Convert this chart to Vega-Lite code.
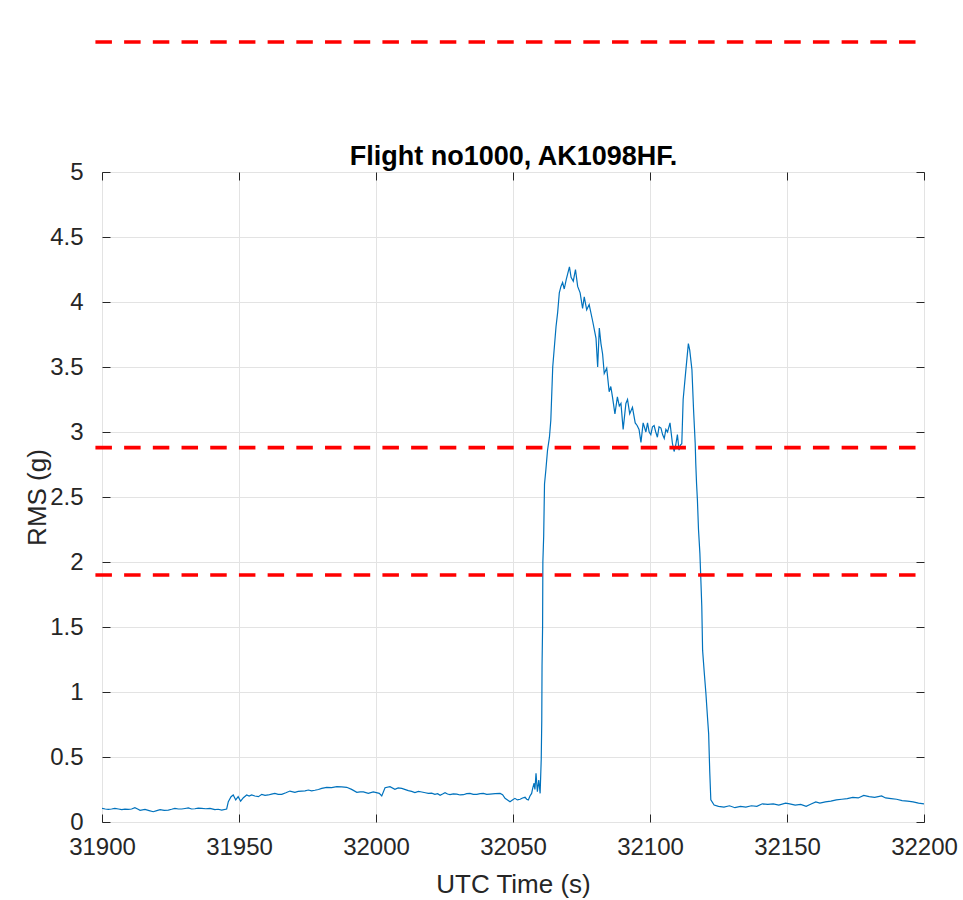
{
  "$schema": "https://vega.github.io/schema/vega-lite/v6.json",
  "autosize": "none",
  "width": 822,
  "height": 650,
  "padding": {"left": 102, "top": 172, "right": 39, "bottom": 78},
  "background": "white",
  "config": {
    "view": {"stroke": "#262626", "strokeWidth": 1},
    "font": "Liberation Sans",
    "axis": {
      "labelFont": "Liberation Sans",
      "titleFont": "Liberation Sans",
      "labelColor": "#262626",
      "titleColor": "#262626",
      "tickColor": "#262626",
      "domain": false,
      "gridColor": "#e3e3e3",
      "gridWidth": 1
    }
  },
  "resolve": {"axis": {"x": "independent", "y": "independent"}},
  "layer": [
    {
      "data": {
        "values": [
          {"t":31900,"rms":0.105},{"t":31901.2,"rms":0.1},{"t":31902.3,"rms":0.097},{"t":31903.5,"rms":0.1},{"t":31904.7,"rms":0.105},{"t":31906,"rms":0.1},{"t":31907.2,"rms":0.095},{"t":31908.4,"rms":0.099},{"t":31909.6,"rms":0.097},{"t":31910.8,"rms":0.1},{"t":31912,"rms":0.11},{"t":31913,"rms":0.1},{"t":31913.9,"rms":0.09},{"t":31915.7,"rms":0.097},{"t":31917.2,"rms":0.088},{"t":31918.7,"rms":0.079},{"t":31920,"rms":0.088},{"t":31921.2,"rms":0.095},{"t":31922.7,"rms":0.09},{"t":31924.2,"rms":0.092},{"t":31925.4,"rms":0.098},{"t":31926.6,"rms":0.105},{"t":31927.9,"rms":0.1},{"t":31929.1,"rms":0.1},{"t":31930.3,"rms":0.104},{"t":31931.5,"rms":0.108},{"t":31932.7,"rms":0.1},{"t":31933.9,"rms":0.102},{"t":31935.1,"rms":0.107},{"t":31936.4,"rms":0.105},{"t":31937.9,"rms":0.102},{"t":31939.4,"rms":0.105},{"t":31941.2,"rms":0.095},{"t":31942.4,"rms":0.098},{"t":31943.7,"rms":0.092},{"t":31945.5,"rms":0.1},{"t":31946.1,"rms":0.156},{"t":31947.1,"rms":0.195},{"t":31947.9,"rms":0.208},{"t":31948.8,"rms":0.17},{"t":31949.7,"rms":0.195},{"t":31950.6,"rms":0.16},{"t":31951.6,"rms":0.187},{"t":31952.8,"rms":0.208},{"t":31953.7,"rms":0.2},{"t":31954.6,"rms":0.208},{"t":31955.8,"rms":0.2},{"t":31957.1,"rms":0.195},{"t":31958.3,"rms":0.213},{"t":31959.5,"rms":0.205},{"t":31960.7,"rms":0.208},{"t":31961.9,"rms":0.215},{"t":31963.1,"rms":0.22},{"t":31964.3,"rms":0.212},{"t":31965.6,"rms":0.213},{"t":31967.1,"rms":0.225},{"t":31968.6,"rms":0.238},{"t":31970.4,"rms":0.228},{"t":31971.6,"rms":0.235},{"t":31972.9,"rms":0.238},{"t":31974.1,"rms":0.24},{"t":31975.3,"rms":0.246},{"t":31976.5,"rms":0.24},{"t":31977.7,"rms":0.244},{"t":31979,"rms":0.25},{"t":31980.2,"rms":0.259},{"t":31982,"rms":0.267},{"t":31983.8,"rms":0.265},{"t":31985.7,"rms":0.272},{"t":31987.5,"rms":0.27},{"t":31989.3,"rms":0.267},{"t":31991.1,"rms":0.251},{"t":31993,"rms":0.228},{"t":31994.2,"rms":0.232},{"t":31995.4,"rms":0.231},{"t":31997.2,"rms":0.22},{"t":31999,"rms":0.231},{"t":32001.2,"rms":0.22},{"t":32002.1,"rms":0.2},{"t":32003.3,"rms":0.264},{"t":32005.1,"rms":0.272},{"t":32006.9,"rms":0.251},{"t":32008.1,"rms":0.262},{"t":32009.4,"rms":0.259},{"t":32011.8,"rms":0.241},{"t":32013,"rms":0.235},{"t":32014.2,"rms":0.226},{"t":32015.5,"rms":0.235},{"t":32016.7,"rms":0.231},{"t":32018,"rms":0.225},{"t":32019.1,"rms":0.22},{"t":32020.3,"rms":0.222},{"t":32021.5,"rms":0.213},{"t":32022.5,"rms":0.218},{"t":32023.4,"rms":0.205},{"t":32024.3,"rms":0.215},{"t":32025.2,"rms":0.226},{"t":32026.1,"rms":0.215},{"t":32027,"rms":0.21},{"t":32028.2,"rms":0.216},{"t":32029.5,"rms":0.215},{"t":32030.7,"rms":0.208},{"t":32031.9,"rms":0.21},{"t":32033.1,"rms":0.218},{"t":32034.3,"rms":0.22},{"t":32035.5,"rms":0.212},{"t":32036.8,"rms":0.213},{"t":32038,"rms":0.218},{"t":32039.2,"rms":0.22},{"t":32040.4,"rms":0.212},{"t":32041.6,"rms":0.215},{"t":32043.5,"rms":0.218},{"t":32045.3,"rms":0.22},{"t":32046.2,"rms":0.21},{"t":32047.1,"rms":0.182},{"t":32048,"rms":0.17},{"t":32048.9,"rms":0.156},{"t":32049.8,"rms":0.17},{"t":32050.7,"rms":0.182},{"t":32051.6,"rms":0.17},{"t":32052.6,"rms":0.175},{"t":32053.5,"rms":0.185},{"t":32054.4,"rms":0.19},{"t":32055,"rms":0.175},{"t":32055.6,"rms":0.17},{"t":32056.2,"rms":0.2},{"t":32056.8,"rms":0.22},{"t":32057.2,"rms":0.26},{"t":32057.7,"rms":0.298},{"t":32058,"rms":0.25},{"t":32058.4,"rms":0.375},{"t":32058.9,"rms":0.233},{"t":32059.4,"rms":0.323},{"t":32059.9,"rms":0.22},{"t":32060.3,"rms":0.48},{"t":32060.5,"rms":0.78},{"t":32060.6,"rms":1.2},{"t":32060.8,"rms":1.5},{"t":32060.9,"rms":2.0},{"t":32061.2,"rms":2.2},{"t":32061.5,"rms":2.6},{"t":32062,"rms":2.71},{"t":32062.6,"rms":2.86},{"t":32063.3,"rms":2.96},{"t":32063.8,"rms":3.09},{"t":32064.5,"rms":3.5},{"t":32065.7,"rms":3.81},{"t":32066.3,"rms":3.92},{"t":32066.9,"rms":4.07},{"t":32067.5,"rms":4.12},{"t":32068.1,"rms":4.15},{"t":32068.7,"rms":4.1},{"t":32069.4,"rms":4.17},{"t":32070,"rms":4.22},{"t":32070.6,"rms":4.27},{"t":32071.2,"rms":4.19},{"t":32072,"rms":4.16},{"t":32072.8,"rms":4.25},{"t":32073.6,"rms":4.12},{"t":32074.5,"rms":4.07},{"t":32075.4,"rms":3.95},{"t":32076,"rms":4.04},{"t":32076.9,"rms":3.94},{"t":32077.8,"rms":3.98},{"t":32079.1,"rms":3.85},{"t":32080.3,"rms":3.72},{"t":32080.9,"rms":3.5},{"t":32081.5,"rms":3.8},{"t":32082.1,"rms":3.68},{"t":32082.7,"rms":3.6},{"t":32083.3,"rms":3.45},{"t":32084.2,"rms":3.49},{"t":32085.1,"rms":3.31},{"t":32085.7,"rms":3.35},{"t":32086.3,"rms":3.27},{"t":32087.2,"rms":3.14},{"t":32088.1,"rms":3.27},{"t":32088.8,"rms":3.2},{"t":32089.4,"rms":3.22},{"t":32090.2,"rms":3.02},{"t":32091.2,"rms":3.22},{"t":32091.8,"rms":3.25},{"t":32092.6,"rms":3.14},{"t":32093.6,"rms":3.19},{"t":32094.6,"rms":3.07},{"t":32095.3,"rms":3.05},{"t":32096,"rms":3.02},{"t":32096.7,"rms":2.92},{"t":32097.5,"rms":3.07},{"t":32098.5,"rms":3.0},{"t":32099.1,"rms":3.07},{"t":32099.7,"rms":3.0},{"t":32100.3,"rms":2.98},{"t":32100.9,"rms":3.04},{"t":32101.5,"rms":3.05},{"t":32102.1,"rms":3.0},{"t":32102.7,"rms":2.96},{"t":32103.3,"rms":3.04},{"t":32104,"rms":3.03},{"t":32104.6,"rms":2.98},{"t":32105.2,"rms":2.95},{"t":32105.8,"rms":3.02},{"t":32106.4,"rms":3.0},{"t":32107.3,"rms":3.07},{"t":32108.2,"rms":2.91},{"t":32108.8,"rms":2.85},{"t":32109.4,"rms":2.9},{"t":32110,"rms":2.98},{"t":32110.6,"rms":2.86},{"t":32111.1,"rms":2.9},{"t":32111.6,"rms":2.91},{"t":32112.1,"rms":3.25},{"t":32113.1,"rms":3.48},{"t":32114,"rms":3.68},{"t":32114.5,"rms":3.63},{"t":32115.3,"rms":3.48},{"t":32115.9,"rms":3.17},{"t":32116.5,"rms":2.91},{"t":32116.7,"rms":2.76},{"t":32117,"rms":2.6},{"t":32117.3,"rms":2.48},{"t":32117.7,"rms":2.25},{"t":32118.2,"rms":2.07},{"t":32118.6,"rms":1.84},{"t":32118.9,"rms":1.66},{"t":32119.2,"rms":1.32},{"t":32119.8,"rms":1.15},{"t":32120.4,"rms":0.99},{"t":32121,"rms":0.8},{"t":32121.4,"rms":0.68},{"t":32121.8,"rms":0.39},{"t":32122.2,"rms":0.17},{"t":32123.4,"rms":0.13},{"t":32125,"rms":0.12},{"t":32127,"rms":0.115},{"t":32129,"rms":0.125},{"t":32131,"rms":0.11},{"t":32133,"rms":0.12},{"t":32135,"rms":0.115},{"t":32137,"rms":0.125},{"t":32139,"rms":0.12},{"t":32141,"rms":0.14},{"t":32143,"rms":0.135},{"t":32145,"rms":0.14},{"t":32147,"rms":0.13},{"t":32149.5,"rms":0.145},{"t":32151,"rms":0.14},{"t":32153,"rms":0.13},{"t":32155,"rms":0.135},{"t":32157,"rms":0.12},{"t":32159,"rms":0.14},{"t":32160.5,"rms":0.155},{"t":32162,"rms":0.145},{"t":32164,"rms":0.155},{"t":32166,"rms":0.16},{"t":32168,"rms":0.17},{"t":32170,"rms":0.175},{"t":32172,"rms":0.18},{"t":32174,"rms":0.19},{"t":32176,"rms":0.185},{"t":32178,"rms":0.205},{"t":32180,"rms":0.195},{"t":32182,"rms":0.19},{"t":32184.5,"rms":0.2},{"t":32186,"rms":0.185},{"t":32188,"rms":0.18},{"t":32190,"rms":0.175},{"t":32192,"rms":0.165},{"t":32194,"rms":0.16},{"t":32196,"rms":0.155},{"t":32198,"rms":0.145},{"t":32200,"rms":0.14}
        ]
      },
      "mark": {"type": "line", "color": "#0072BD", "strokeWidth": 1.2, "clip": true},
      "encoding": {
        "x": {
          "field": "t", "type": "quantitative",
          "scale": {"domain": [31900, 32200], "nice": false, "zero": false},
          "axis": {
            "orient": "bottom",
            "values": [31900, 31950, 32000, 32050, 32100, 32150, 32200],
            "format": "d",
            "labelFlush": false,
            "labelFontSize": 24,
            "labelPadding": 21,
            "tickSize": -8,
            "grid": true,
            "title": "UTC Time (s)",
            "titleFontSize": 26,
            "titleFontWeight": "normal",
            "titleBaseline": "alphabetic",
            "titleY": 70
          }
        },
        "y": {
          "field": "rms", "type": "quantitative",
          "scale": {"domain": [0, 5], "nice": false, "zero": true},
          "axis": {
            "orient": "left",
            "values": [0, 0.5, 1, 1.5, 2, 2.5, 3, 3.5, 4, 4.5, 5],
            "format": "~g",
            "labelFontSize": 24,
            "labelPadding": 27,
            "tickSize": -8,
            "grid": true,
            "title": "RMS (g)",
            "titleFontSize": 26,
            "titleFontWeight": "normal",
            "titleBaseline": "alphabetic",
            "titleAngle": -90,
            "titleAlign": "center",
            "titleX": -57,
            "titleY": 325
          }
        }
      }
    },
    {
      "data": {
        "values": [
          {"level": 6.0, "start": 31897.6, "end": 32200},
          {"level": 2.88, "start": 31897.6, "end": 32200},
          {"level": 1.9, "start": 31897.6, "end": 32200}
        ]
      },
      "mark": {"type": "rule", "color": "#ff0000", "strokeWidth": 3.6, "strokeDash": [16.5, 12.2], "clip": false},
      "encoding": {
        "x": {
          "field": "start", "type": "quantitative",
          "axis": {
            "orient": "top", "labels": false, "grid": false, "tickSize": -8,
            "values": [31900, 31950, 32000, 32050, 32100, 32150, 32200],
            "title": "Flight no1000, AK1098HF.",
            "titleFontSize": 27,
            "titleFontWeight": "bold",
            "titleColor": "#000000",
            "titleBaseline": "alphabetic",
            "titleAlign": "center",
            "titleX": 411,
            "titleY": -8
          }
        },
        "x2": {"field": "end"},
        "y": {
          "field": "level", "type": "quantitative",
          "axis": {"orient": "right", "labels": false, "title": null, "grid": false, "tickSize": -8, "values": [0, 0.5, 1, 1.5, 2, 2.5, 3, 3.5, 4, 4.5, 5]}
        }
      }
    }
  ]
}
